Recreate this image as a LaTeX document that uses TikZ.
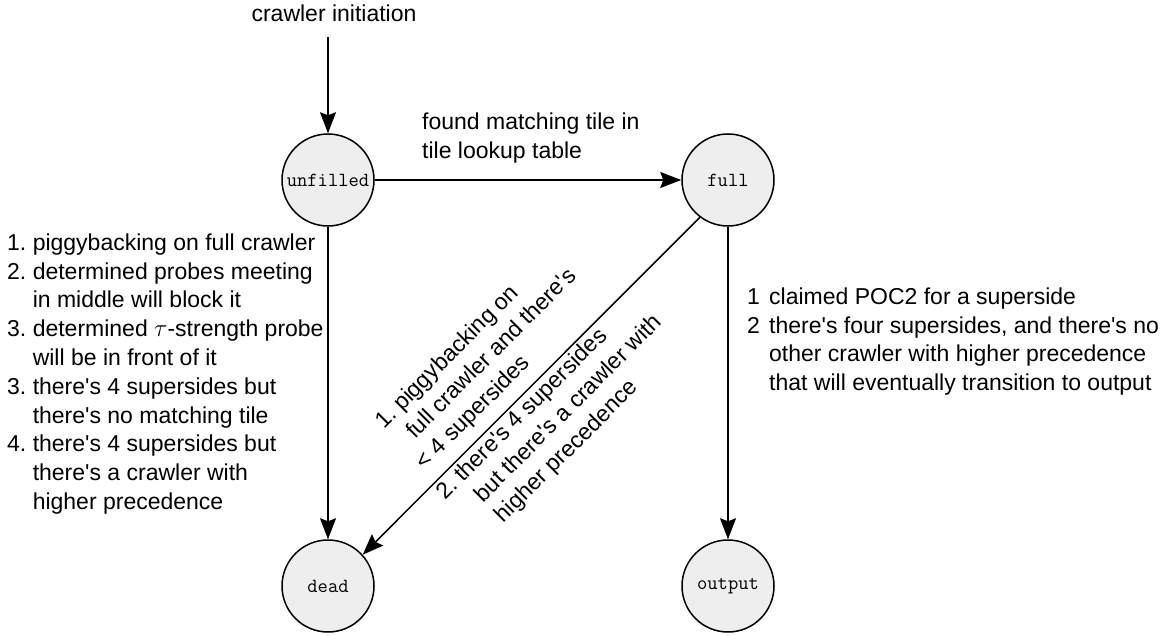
\documentclass[tikz,border=0pt]{standalone}
\usepackage{fontspec}
\setmainfont{Liberation Sans}[Ligatures=TeXOff]
\usetikzlibrary{arrows.meta}
\definecolor{stategray}{HTML}{EEEEEE}
\begin{document}
\begin{tikzpicture}[x=1pt,y=-1pt,
  state/.style={circle, draw, line width=1.5pt, fill=stategray, minimum size=92pt, inner sep=0pt, font=\fontsize{20}{24}\selectfont\ttfamily},
  lbl/.style={inner sep=0pt, align=left, font=\fontsize{23}{28.8}\selectfont},
  arr/.style={line width=1.5pt, -{Stealth[length=21pt,width=16pt,inset=3pt]}}]
\useasboundingbox (0,0) rectangle (1165,636);
\node[lbl, anchor=base] (init) at (334,22) {crawler initiation};
\coordinate (initend) at (328,37);
\node[state] (unfilled) at (328,180) {unfilled};
\node[state] (full) at (728,180) {full};
\node[state] (dead) at (328,586) {dead};
\node[state] (output) at (728,586) {output};
\node[lbl, anchor=north west] (foundlbl) at (422,112.4) {found matching tile in\\tile lookup table};
\node[lbl, anchor=north west] (deadlbl) at (7,233.4) {1.\ piggybacking on full crawler\\2.\ determined probes meeting\\\hphantom{2.\ }in middle will block it\\3.\ determined $\tau$-strength probe\\\hphantom{3.\ }will be in front of it\\3.\ there's 4 supersides but\\\hphantom{3.\ }there's no matching tile\\4.\ there's 4 supersides but\\\hphantom{4.\ }there's a crawler with\\\hphantom{4.\ }higher precedence};
\node[lbl, rotate=45, anchor=north west] (piggylbl) at (372,418) {1.\ piggybacking on\\\hspace*{15pt}full crawler and there's\\< 4 supersides};
\node[lbl, rotate=45, anchor=north west] (supersidelbl) at (433,489) {2.\ there's 4 supersides\\\hphantom{2.\ }but there's a crawler with\\\hphantom{2.\ }higher precedence};
\node[lbl, anchor=north west] (outlbl) at (747,287.4) {\makebox[22pt][l]{1}claimed POC2 for a superside\\\makebox[22pt][l]{2}there's four supersides, and there's no\\\hspace*{22pt}other crawler with higher precedence\\\hspace*{22pt}that will eventually transition to output};
\draw[arr] (initend) -- (unfilled);
\draw[arr] (unfilled) -- (full);
\draw[arr] (unfilled) -- (dead);
\draw[arr] (full.233) -- (dead.42);
\draw[arr] (full) -- (output);
\end{tikzpicture}
\end{document}
